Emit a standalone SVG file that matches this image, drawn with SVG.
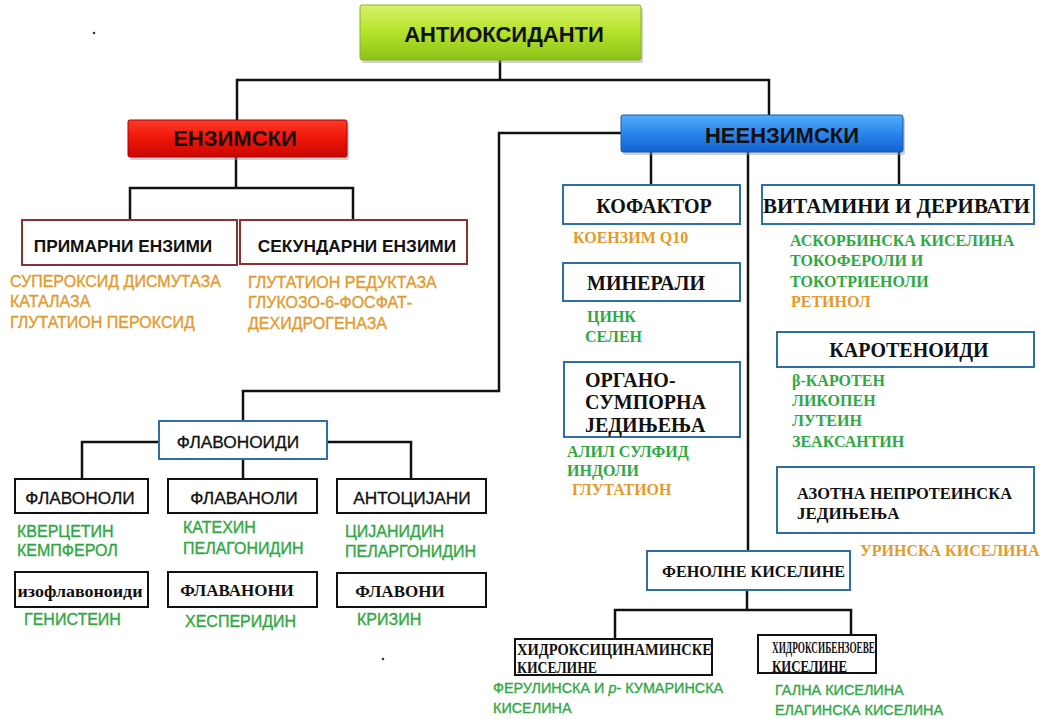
<svg xmlns="http://www.w3.org/2000/svg" width="1042" height="719" viewBox="0 0 1042 719">
<defs>
<linearGradient id="gGreen" x1="0" y1="0" x2="0" y2="1"><stop offset="0" stop-color="#d8f268"/><stop offset="0.5" stop-color="#b4e22a"/><stop offset="1" stop-color="#8cc21a"/></linearGradient>
<linearGradient id="gRed" x1="0" y1="0" x2="0" y2="1"><stop offset="0" stop-color="#ff3a2a"/><stop offset="0.5" stop-color="#ee1508"/><stop offset="1" stop-color="#c80800"/></linearGradient>
<linearGradient id="gBlue" x1="0" y1="0" x2="0" y2="1"><stop offset="0" stop-color="#52aef8"/><stop offset="0.5" stop-color="#2b85ec"/><stop offset="1" stop-color="#1262d0"/></linearGradient>
</defs>
<style>
.sb{font-family:"Liberation Sans",Arial,sans-serif;font-weight:bold;fill:#111}
.s{font-family:"Liberation Sans",Arial,sans-serif;font-size:16px}
.lab{font-size:17.3px;fill:#111;stroke:#111;stroke-width:0.3}
.tb{font-family:"Liberation Serif","Times New Roman",serif;font-weight:bold;fill:#111}
.ts{font-family:"Liberation Serif","Times New Roman",serif;font-weight:bold;font-size:16px}
.or{fill:#e39a2c}
.gr{fill:#2fa843}
.s.or{stroke:#e39a2c;stroke-width:0.35}
.s.gr{stroke:#2fa843;stroke-width:0.35}
.s.sm{font-size:14.4px}
.bx-r{fill:#fff;stroke:#8a3232;stroke-width:2}
.bx-b{fill:#fff;stroke:#2f6fa8;stroke-width:2}
.bx-k{fill:#fff;stroke:#111;stroke-width:2}
.shadow{fill:#9a9a9a;opacity:0.45}
.conn{fill:none;stroke:#111;stroke-width:2.5}
</style>
<rect width="1042" height="719" fill="#fff"/>
<circle cx="94" cy="33" r="1.3" fill="#333"/>
<circle cx="383" cy="659" r="1.3" fill="#333"/>

<g id="connectors">
<path class="conn" d="M500,60V80M237,121V80H769V116"/>
<path class="conn" d="M236,157V188M130,221V188H353V221"/>
<path class="conn" d="M621,133H499V391H243V421"/>
<path class="conn" d="M651,152V186M748,152V551M899,152V186"/>
<path class="conn" d="M159,442H82V479M327,442H411V479M243,459V479"/>
<path class="conn" d="M747,590V610M615,639V610H851V635"/>
</g>

<g id="antioksidanti">
<rect class="shadow" x="362" y="8" width="281" height="55" rx="2"/>
<rect x="360" y="5" width="281" height="55" rx="2" fill="url(#gGreen)" stroke="#86b51e" stroke-width="1"/>
<text class="sb" x="504" y="42" font-size="22" text-anchor="middle">АНТИОКСИДАНТИ</text>
</g>

<g id="enzimski">
<rect class="shadow" x="130" y="123" width="219" height="37" rx="2"/>
<rect x="128" y="120" width="219" height="37" rx="2" fill="url(#gRed)" stroke="#a00" stroke-width="1"/>
<text class="sb" x="235" y="146" font-size="22" text-anchor="middle">ЕНЗИМСКИ</text>
</g>

<g id="neenzimski">
<rect class="shadow" x="623" y="118" width="282" height="37" rx="2"/>
<rect x="621" y="115" width="282" height="37" rx="2" fill="url(#gBlue)" stroke="#1458b8" stroke-width="1"/>
<text class="sb" x="782" y="143" font-size="22" text-anchor="middle">НЕЕНЗИМСКИ</text>
</g>

<g id="primarni">
<rect class="bx-r" x="22" y="220" width="215" height="45"/>
<text class="sb" x="123" y="252" font-size="17.3" text-anchor="middle">ПРИМАРНИ ЕНЗИМИ</text>
<text class="s or" x="10" y="287">СУПЕРОКСИД ДИСМУТАЗА</text>
<text class="s or" x="10" y="307">КАТАЛАЗА</text>
<text class="s or" x="10" y="328">ГЛУТАТИОН ПЕРОКСИД</text>
</g>

<g id="sekundarni">
<rect class="bx-r" x="240" y="220" width="227" height="44"/>
<text class="sb" x="357" y="252" font-size="17.3" text-anchor="middle">СЕКУНДАРНИ ЕНЗИМИ</text>
<text class="s or" x="248" y="288">ГЛУТАТИОН РЕДУКТАЗА</text>
<text class="s or" x="248" y="308">ГЛУКОЗО-6-ФОСФАТ-</text>
<text class="s or" x="248" y="329">ДЕХИДРОГЕНАЗА</text>
</g>

<g id="kofaktor">
<rect class="bx-b" x="563" y="185" width="177" height="39"/>
<text class="tb" x="654" y="213" font-size="20" text-anchor="middle">КОФАКТОР</text>
<text class="ts or" x="573" y="243">КОЕНЗИМ  Q10</text>
</g>

<g id="minerali">
<rect class="bx-b" x="563" y="263" width="177" height="38"/>
<text class="tb" x="646" y="290" font-size="20" text-anchor="middle">МИНЕРАЛИ</text>
<text class="ts gr" x="587" y="322">ЦИНК</text>
<text class="ts gr" x="585" y="342">СЕЛЕН</text>
</g>

<g id="organosumporna">
<rect class="bx-b" x="564" y="362" width="176" height="75"/>
<text class="tb" x="585" y="387" font-size="20">ОРГАНО-</text>
<text class="tb" x="585" y="409" font-size="20">СУМПОРНА</text>
<text class="tb" x="585" y="432" font-size="20">ЈЕДИЊЕЊА</text>
<text class="ts gr" x="567" y="457">АЛИЛ СУЛФИД</text>
<text class="ts gr" x="567" y="476">ИНДОЛИ</text>
<text class="ts or" x="572" y="495">ГЛУТАТИОН</text>
</g>

<g id="vitamini">
<rect class="bx-b" x="762" y="185" width="272" height="39"/>
<text class="tb" x="763" y="213" font-size="20" textLength="267" lengthAdjust="spacingAndGlyphs">ВИТАМИНИ И ДЕРИВАТИ</text>
<text class="ts gr" x="790" y="246">АСКОРБИНСКА КИСЕЛИНА</text>
<text class="ts gr" x="790" y="266">ТОКОФЕРОЛИ И</text>
<text class="ts gr" x="790" y="287">ТОКОТРИЕНОЛИ</text>
<text class="ts or" x="791" y="307">РЕТИНОЛ</text>
</g>

<g id="karotenoidi">
<rect class="bx-b" x="777" y="332" width="257" height="35"/>
<text class="tb" x="909" y="357" font-size="20" text-anchor="middle">КАРОТЕНОИДИ</text>
<text class="ts gr" x="792" y="386">β-КАРОТЕН</text>
<text class="ts gr" x="792" y="406">ЛИКОПЕН</text>
<text class="ts gr" x="792" y="426">ЛУТЕИН</text>
<text class="ts gr" x="792" y="447">ЗЕАКСАНТИН</text>
</g>

<g id="azotna">
<rect class="bx-b" x="777" y="467" width="257" height="66"/>
<text class="tb" x="797" y="499" font-size="17" textLength="215" lengthAdjust="spacingAndGlyphs">АЗОТНА НЕПРОТЕИНСКА</text>
<text class="tb" x="797" y="519" font-size="17">ЈЕДИЊЕЊА</text>
<text class="ts or" x="860" y="556">УРИНСКА КИСЕЛИНА</text>
</g>

<g id="fenolne">
<rect class="bx-b" x="647" y="551" width="203" height="39"/>
<text class="tb" x="662" y="577" font-size="17" textLength="183" lengthAdjust="spacingAndGlyphs">ФЕНОЛНЕ КИСЕЛИНЕ</text>
</g>

<g id="hidroksicinaminske">
<rect class="bx-k" x="515" y="639" width="197" height="36"/>
<text class="tb" x="517" y="655" font-size="16" textLength="195" lengthAdjust="spacingAndGlyphs">ХИДРОКСИЦИНАМИНСКЕ</text>
<text class="tb" x="517" y="673" font-size="16" textLength="80" lengthAdjust="spacingAndGlyphs">КИСЕЛИНЕ</text>
<text class="s gr sm" x="493" y="693">ФЕРУЛИНСКА И <tspan font-style="italic">p</tspan>- КУМАРИНСКА</text>
<text class="s gr sm" x="493" y="713">КИСЕЛИНА</text>
</g>

<g id="hidroksibenzoeve">
<rect class="bx-k" x="758" y="635" width="118" height="38"/>
<text class="tb" x="772" y="653" font-size="16" textLength="103" lengthAdjust="spacingAndGlyphs">ХИДРОКСИБЕНЗОЕВЕ</text>
<text class="tb" x="772" y="672" font-size="16" textLength="75" lengthAdjust="spacingAndGlyphs">КИСЕЛИНЕ</text>
<text class="s gr sm" x="775" y="695">ГАЛНА КИСЕЛИНА</text>
<text class="s gr sm" x="775" y="715">ЕЛАГИНСКА КИСЕЛИНА</text>
</g>

<g id="flavonoidi">
<rect class="bx-b" x="159" y="421" width="168" height="38"/>
<text class="s lab" x="238" y="448" text-anchor="middle">ФЛАВОНОИДИ</text>
</g>

<g id="flavonoli">
<rect class="bx-k" x="15" y="479" width="133" height="34"/>
<text class="s lab" x="80" y="504" text-anchor="middle">ФЛАВОНОЛИ</text>
<text class="s gr" x="17" y="537">КВЕРЦЕТИН</text>
<text class="s gr" x="17" y="556">КЕМПФЕРОЛ</text>
</g>

<g id="flavanoli">
<rect class="bx-k" x="168" y="479" width="149" height="34"/>
<text class="s lab" x="244" y="504" text-anchor="middle">ФЛАВАНОЛИ</text>
<text class="s gr" x="183" y="533">КАТЕХИН</text>
<text class="s gr" x="183" y="554">ПЕЛАГОНИДИН</text>
</g>

<g id="antocijani">
<rect class="bx-k" x="337" y="479" width="149" height="34"/>
<text class="s lab" x="412" y="504" text-anchor="middle">АНТОЦИЈАНИ</text>
<text class="s gr" x="345" y="537">ЦИЈАНИДИН</text>
<text class="s gr" x="345" y="557">ПЕЛАРГОНИДИН</text>
</g>

<g id="izoflavonoidi">
<rect class="bx-k" x="15" y="572" width="133" height="35"/>
<text class="tb" x="80" y="597" font-size="16" text-anchor="middle" textLength="125" lengthAdjust="spacingAndGlyphs">изофлавоноиди</text>
<text class="s gr" x="24" y="625">ГЕНИСТЕИН</text>
</g>

<g id="flavanoni">
<rect class="bx-k" x="168" y="572" width="149" height="35"/>
<text class="tb" x="237" y="596" font-size="17" text-anchor="middle">ФЛАВАНОНИ</text>
<text class="s gr" x="185" y="627">ХЕСПЕРИДИН</text>
</g>

<g id="flavoni">
<rect class="bx-k" x="337" y="573" width="149" height="34"/>
<text class="tb" x="400" y="597" font-size="17" text-anchor="middle">ФЛАВОНИ</text>
<text class="s gr" x="357" y="625">КРИЗИН</text>
</g>
</svg>
